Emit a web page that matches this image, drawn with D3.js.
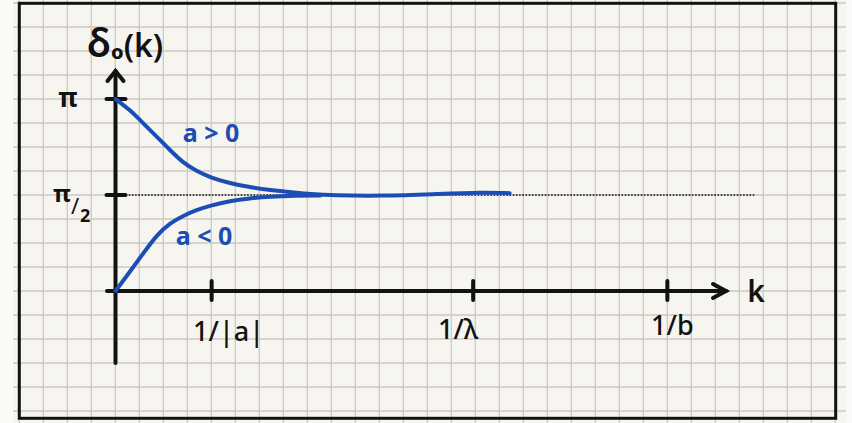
<!DOCTYPE html>
<html>
<head>
<meta charset="utf-8">
<script src="https://cdn.jsdelivr.net/npm/d3@7"></script>
<style>
  html, body { margin: 0; padding: 0; background: #fbfaf8; }
  svg { display: block; }
</style>
</head>
<body>
<svg id="chart" width="852" height="423"></svg>
<script>
// ---- data (k in units of 1/|a|, delta in units of pi) ----
const kTickValues = [1, 3.72, 5.74];
const kTickLabels = ["1/|a|", "1/λ", "1/b"];
const deltaTickValues = [1, 0.5];
const deltaTickLabels = ["π", "π/2"];

const kPos = [0, 0.151, 0.289, 0.428, 0.567, 0.705, 0.844, 0.982, 1.19, 1.40, 1.60, 1.88, 2.02, 2.26, 2.78, 3.30, 3.82, 4.10];
const deltaPos = [1.0, 0.943, 0.873, 0.804, 0.734, 0.667, 0.624, 0.592, 0.561, 0.540, 0.526, 0.512, 0.505, 0.498, 0.495, 0.504, 0.514, 0.509];

const kNeg = [0, 0.151, 0.289, 0.428, 0.567, 0.705, 0.844, 0.982, 1.19, 1.40, 1.60, 1.88, 2.13];
const deltaNeg = [0, 0.101, 0.196, 0.292, 0.353, 0.392, 0.422, 0.444, 0.469, 0.483, 0.491, 0.496, 0.498];

const seriesLabels = ["a > 0", "a < 0"];
const yTitle = "δ";
const xTitle = "k";

// ---- drawing ----
const svg = d3.select("#chart");
const W = 852, H = 423;
const ink = "#121212";
const blue = "#1c4db5";

const x = d3.scaleLinear().domain([0, 6.35]).range([115.5, 726]);
const y = d3.scaleLinear().domain([0, 1]).range([291, 99]);

// paper
svg.append("rect").attr("x", 13).attr("y", 0).attr("width", 833).attr("height", H).attr("fill", "#f7f5f0");
const grid = svg.append("g").attr("stroke", "#cdc9c3").attr("stroke-width", 1.3);
for (let gx = 19.3; gx <= 846; gx += 24) {
  grid.append("line").attr("x1", gx).attr("x2", gx).attr("y1", 0).attr("y2", H);
}
for (let gy = 3; gy <= H; gy += 24) {
  grid.append("line").attr("x1", 13).attr("x2", 846).attr("y1", gy).attr("y2", gy);
}
// frame
svg.append("rect").attr("x", 19.3).attr("y", 3.3).attr("width", 816.4).attr("height", 415)
  .attr("fill", "none").attr("stroke", ink).attr("stroke-width", 3);

// dotted pi/2 guide
svg.append("line").attr("x1", x(0) + 10).attr("x2", 755).attr("y1", y(0.5)).attr("y2", y(0.5))
  .attr("stroke", ink).attr("stroke-width", 1.3).attr("stroke-dasharray", "1.6,1.6");

const axisStyle = s => s.attr("stroke", ink).attr("stroke-width", 4).attr("stroke-linecap", "round").attr("fill", "none");

// y axis
axisStyle(svg.append("line").attr("x1", x(0)).attr("x2", x(0)).attr("y1", 363).attr("y2", 71));
axisStyle(svg.append("path").attr("d", `M${x(0) - 8},${81} L${x(0)},${71} L${x(0) + 8},${81}`).attr("stroke-width", 3.5));
// x axis
axisStyle(svg.append("line").attr("x1", 107).attr("x2", x(6.35)).attr("y1", y(0)).attr("y2", y(0)));
axisStyle(svg.append("path").attr("d", `M${x(6.35) - 13},${y(0) - 7} L${x(6.35)},${y(0)} L${x(6.35) - 13},${y(0) + 7}`).attr("stroke-width", 3.5));

// y ticks
deltaTickValues.forEach((v, i) => {
  axisStyle(svg.append("line").attr("x1", x(0) - 9).attr("x2", x(0) + 10).attr("y1", y(v)).attr("y2", y(v)));
});
// x ticks
kTickValues.forEach((v, i) => {
  axisStyle(svg.append("line").attr("x1", x(v)).attr("x2", x(v)).attr("y1", y(0) - 10).attr("y2", y(0) + 9).attr("stroke-width", 3.5));
});

const font = "'Noto Sans', 'DejaVu Sans', sans-serif";

// y tick labels
svg.append("text").attr("x", 68).attr("y", y(1) + 8).attr("text-anchor", "middle")
  .attr("font-family", font).attr("font-size", 26).attr("font-weight", 700).attr("fill", ink).text(deltaTickLabels[0]);
{
  const t = svg.append("text").attr("font-family", font).attr("fill", ink).attr("font-weight", 700);
  t.append("tspan").attr("x", 53).attr("y", y(0.5) + 7).attr("font-size", 24).text("π");
  t.append("tspan").attr("x", 71).attr("y", y(0.5) + 19).attr("font-size", 22).attr("font-weight", 400).text("/");
  t.append("tspan").attr("x", 80).attr("y", y(0.5) + 27).attr("font-size", 18).text("2");
}

// x tick labels
const labelOffsets = [[17, 50], [-15, 48], [5, 44]];
kTickValues.forEach((v, i) => {
  svg.append("text").attr("x", x(v) + labelOffsets[i][0]).attr("y", y(0) + labelOffsets[i][1])
    .attr("text-anchor", "middle").attr("font-family", font).attr("font-size", 27).attr("font-weight", 500)
    .attr("fill", ink).text(kTickLabels[i]);
});

// axis titles
{
  const t = svg.append("text").attr("font-family", font).attr("fill", ink).attr("font-weight", 600);
  t.append("tspan").attr("x", 87).attr("y", 57).attr("font-size", 40).text(yTitle);
  t.append("tspan").attr("dy", 2).attr("font-size", 20).attr("font-weight", 800).text("o");
  t.append("tspan").attr("dy", -2).attr("font-size", 32).text("(k)");
}
svg.append("text").attr("x", 756).attr("y", 302).attr("text-anchor", "middle")
  .attr("font-family", font).attr("font-size", 30).attr("font-weight", 600).attr("fill", ink).text(xTitle);

// curves
const line = d3.line().x(d => x(d[0])).y(d => y(d[1])).curve(d3.curveBasis);
const posData = kPos.map((k, i) => [k, deltaPos[i]]);
const negData = kNeg.map((k, i) => [k, deltaNeg[i]]);
[posData, negData].forEach(data => {
  svg.append("path").datum(data).attr("d", line).attr("fill", "none").attr("stroke", blue)
    .attr("stroke-width", 4).attr("stroke-linecap", "round").attr("stroke-linejoin", "round");
});

// series labels
svg.append("text").attr("x", 211).attr("y", 142).attr("text-anchor", "middle")
  .attr("font-family", font).attr("font-size", 25).attr("font-weight", 700).attr("fill", blue).text(seriesLabels[0]);
svg.append("text").attr("x", 204).attr("y", 245).attr("text-anchor", "middle")
  .attr("font-family", font).attr("font-size", 25).attr("font-weight", 700).attr("fill", blue).text(seriesLabels[1]);
</script>
</body>
</html>
